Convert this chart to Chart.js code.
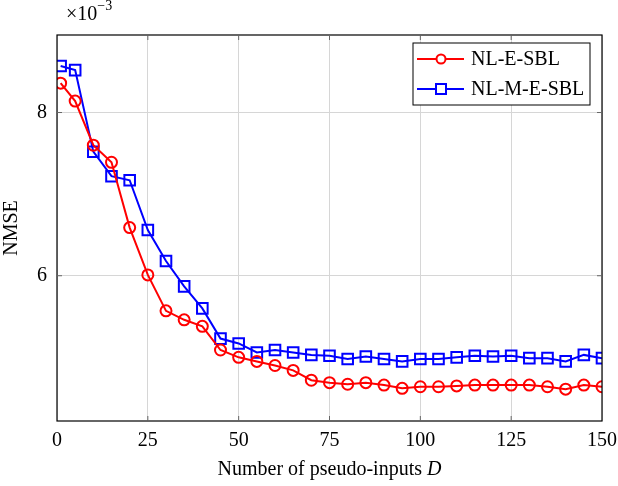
<!DOCTYPE html>
<html>
<head>
<meta charset="utf-8">
<script src="https://cdn.jsdelivr.net/npm/chart.js@4/dist/chart.umd.min.js"></script>
<style>
  html, body { margin: 0; padding: 0; background: #fff; }
  #wrap { position: relative; width: 618px; height: 486px; }
  #scale { position: absolute; left: 66px; top: 0px; font-family: "Liberation Serif", serif; font-size: 20px; color: #000; }
  #scale sup { font-size: 14px; position: relative; top: -2px; }
</style>
</head>
<body>
<div id="wrap">
  <canvas id="nmseChart" width="618" height="486"></canvas>
  <div id="scale">&times;10<sup>&minus;3</sup></div>
</div>
<script>
// number of pseudo-inputs D
const pseudoInputs = [1, 5, 10, 15, 20, 25, 30, 35, 40, 45, 50, 55, 60, 65, 70, 75, 80, 85, 90, 95, 100, 105, 110, 115, 120, 125, 130, 135, 140, 145, 150];

// NMSE values, x 10^-3
const nlESBL = [8.36, 8.14, 7.60, 7.39, 6.59, 6.01, 5.57, 5.46, 5.38, 5.09, 5.00, 4.95, 4.90, 4.84, 4.72, 4.69, 4.67, 4.69, 4.66, 4.62, 4.64, 4.64, 4.65, 4.66, 4.66, 4.66, 4.66, 4.64, 4.61, 4.66, 4.64];
const nlMESBL = [8.57, 8.52, 7.52, 7.22, 7.17, 6.56, 6.18, 5.87, 5.60, 5.23, 5.17, 5.06, 5.09, 5.06, 5.03, 5.02, 4.98, 5.01, 4.98, 4.95, 4.98, 4.98, 5.00, 5.02, 5.01, 5.02, 4.99, 4.99, 4.95, 5.03, 4.99];

const xTicks = [0, 25, 50, 75, 100, 125, 150];
const yTicks = [6, 8];

const serif = "'Liberation Serif', 'DejaVu Serif', serif";

const toPoints = ys => ys.map((y, i) => ({ x: pseudoInputs[i], y }));

// frame around the plot, like pgfplots
const framePlugin = {
  id: "frame",
  afterDraw(chart) {
    const { ctx, chartArea: a } = chart;
    ctx.save();
    ctx.strokeStyle = "#000";
    ctx.lineWidth = 1.2;
    ctx.strokeRect(a.left, a.top, a.right - a.left, a.bottom - a.top);
    // small inner tick marks
    ctx.strokeStyle = "#666";
    ctx.lineWidth = 1;
    const xs = chart.scales.x, ys = chart.scales.y;
    xTicks.slice(1, -1).forEach(v => {
      const px = xs.getPixelForValue(v);
      ctx.beginPath();
      ctx.moveTo(px, a.bottom); ctx.lineTo(px, a.bottom - 5);
      ctx.moveTo(px, a.top); ctx.lineTo(px, a.top + 5);
      ctx.stroke();
    });
    yTicks.forEach(v => {
      const py = ys.getPixelForValue(v);
      ctx.beginPath();
      ctx.moveTo(a.left, py); ctx.lineTo(a.left + 5, py);
      ctx.moveTo(a.right, py); ctx.lineTo(a.right - 5, py);
      ctx.stroke();
    });

    // x axis title with italic D
    ctx.fillStyle = "#000";
    ctx.textBaseline = "alphabetic";
    ctx.font = "20px " + serif;
    const main = "Number of pseudo-inputs ";
    ctx.font = "italic 20px " + serif;
    const wD = ctx.measureText("D").width;
    ctx.font = "20px " + serif;
    const wMain = ctx.measureText(main).width;
    const cx = (a.left + a.right) / 2;
    const startX = cx - (wMain + wD) / 2;
    ctx.fillText(main, startX, 475);
    ctx.font = "italic 20px " + serif;
    ctx.fillText("D", startX + wMain, 475);
    ctx.restore();
  }
};

// legend box in the upper right corner
const legendPlugin = {
  id: "boxLegend",
  afterDraw(chart) {
    const { ctx } = chart;
    const x0 = 413, y0 = 43, w = 177, h = 62;
    ctx.save();
    ctx.fillStyle = "#fff";
    ctx.fillRect(x0, y0, w, h);
    ctx.strokeStyle = "#000";
    ctx.lineWidth = 1;
    ctx.strokeRect(x0, y0, w, h);
    chart.data.datasets.forEach((ds, i) => {
      const cy = y0 + 16 + i * 30;
      ctx.strokeStyle = ds.borderColor;
      ctx.lineWidth = 2;
      ctx.beginPath();
      ctx.moveTo(x0 + 4, cy);
      ctx.lineTo(x0 + 51, cy);
      ctx.stroke();
      ctx.fillStyle = "#fff";
      if (ds.pointStyle === "circle") {
        ctx.beginPath();
        ctx.arc(x0 + 28, cy, 4.5, 0, Math.PI * 2);
        ctx.fill();
        ctx.stroke();
      } else {
        ctx.fillRect(x0 + 23, cy - 5, 10, 10);
        ctx.strokeRect(x0 + 23, cy - 5, 10, 10);
      }
      ctx.fillStyle = "#000";
      ctx.font = "20px " + serif;
      ctx.textBaseline = "middle";
      ctx.fillText(ds.label, x0 + 58, cy + 1);
    });
    ctx.restore();
  }
};

new Chart(document.getElementById("nmseChart"), {
  type: "line",
  data: {
    datasets: [
      {
        label: "NL-E-SBL",
        data: toPoints(nlESBL),
        borderColor: "#ff0000",
        backgroundColor: "rgba(0,0,0,0)",
        pointStyle: "circle",
        pointRadius: 5.5,
        pointBorderWidth: 2,
        borderWidth: 2,
        tension: 0
      },
      {
        label: "NL-M-E-SBL",
        data: toPoints(nlMESBL),
        borderColor: "#0000ff",
        backgroundColor: "rgba(0,0,0,0)",
        pointStyle: "rect",
        pointRadius: 7.5,
        pointBorderWidth: 2,
        borderWidth: 2,
        tension: 0
      }
    ]
  },
  options: {
    responsive: false,
    animation: false,
    layout: { padding: { top: 35, right: 16, left: 0, bottom: 0 } },
    plugins: {
      legend: { display: false },
      tooltip: { enabled: false }
    },
    scales: {
      x: {
        type: "linear",
        min: 0,
        max: 150,
        afterBuildTicks: axis => { axis.ticks = xTicks.map(v => ({ value: v })); },
        afterFit: scale => { scale.height = 65; scale.paddingRight = 0; scale.paddingLeft = 0; },
        grid: { color: "#d6d6d6", lineWidth: 1, drawTicks: false },
        border: { display: false },
        ticks: { color: "#000", padding: 8, maxRotation: 0, font: { family: serif, size: 20 } },
        title: { display: false }
      },
      y: {
        type: "linear",
        min: 4.22,
        max: 8.95,
        afterBuildTicks: axis => { axis.ticks = yTicks.map(v => ({ value: v })); },
        afterFit: scale => { scale.width = 57; },
        grid: { color: "#d6d6d6", lineWidth: 1, drawTicks: false },
        border: { display: false },
        ticks: { color: "#000", padding: 10, font: { family: serif, size: 20 } },
        title: {
          display: true,
          text: "NMSE",
          color: "#000",
          padding: { top: 0, bottom: 4 },
          font: { family: serif, size: 20 }
        }
      }
    }
  },
  plugins: [framePlugin, legendPlugin]
});
</script>
</body>
</html>
